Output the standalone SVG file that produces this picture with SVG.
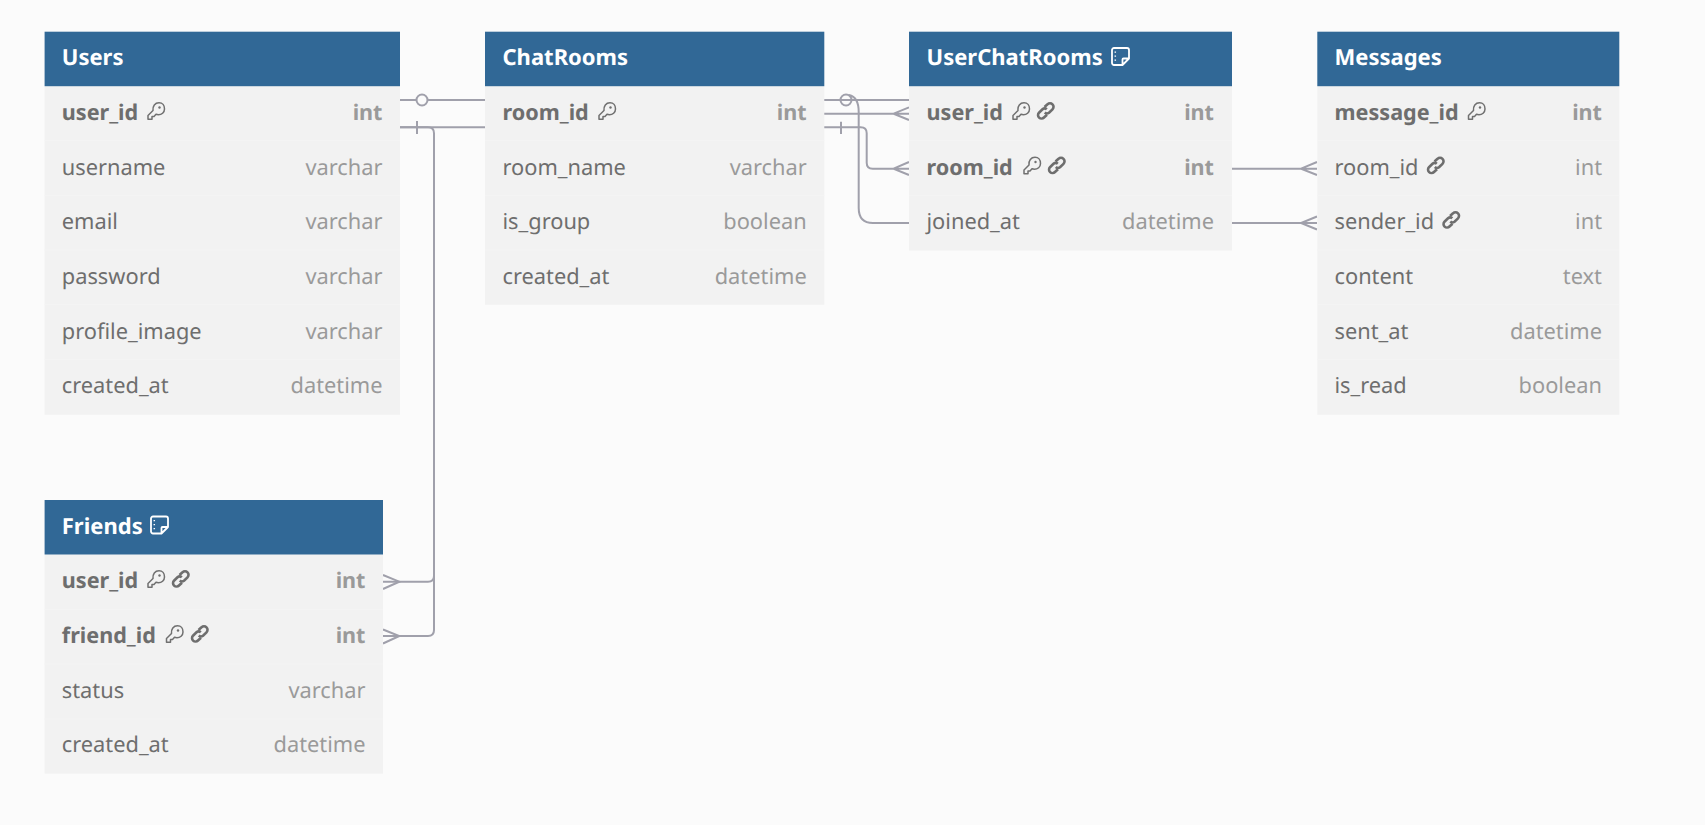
<svg xmlns="http://www.w3.org/2000/svg" width="1705" height="825" viewBox="0 0 1705 825">
<style>
text{font-family:"Noto Sans","Open Sans",sans-serif;text-rendering:geometricPrecision}
.h{fill:#316896}
.b{fill:#f2f2f2}
.sep{stroke:#f4f4f4;stroke-width:1}
.t{font-size:22px;font-weight:700;fill:#fff}
.n{font-size:21.800px;fill:#6e6e6e}
.ty{font-size:21.800px;fill:#9a9a9a;text-anchor:end}
.k{font-weight:700;font-size:21.600px}
.c{fill:none;stroke:#a0a0ab;stroke-width:2}
.ic{fill:none;stroke:#707070;stroke-width:1.500;stroke-linecap:round;stroke-linejoin:round}
.ln{fill:none;stroke:#6e6e6e;stroke-width:2.600}
.nt{fill:none;stroke:#fff;stroke-width:1.800;stroke-linejoin:round}
</style>
<defs>
<g id="key"><path class="ic" d="M1 13.500 L6 8.500 C5.500 4 8 0.800 12 0.800 C15.500 0.800 17.500 3.500 17.500 7 C17.500 10.500 14.500 12.800 11.500 12.800 C10.500 12.800 9.500 12.500 9 12.200 L7 14.500 H5 V17.300 H1 Z"/><circle cx="12.500" cy="5.500" r="1.200" fill="#707070"/></g>
<g id="link"><path class="ln" d="M7.500 4.500 L10.500 1.800 A3.200 3.200 0 0 1 15.500 6.800 L12 10.200 A3.200 3.200 0 0 1 7.800 10"/><path class="ln" d="M9.800 6.800 A3.200 3.200 0 0 0 5.500 6.800 L2 10.200 A3.200 3.200 0 0 0 7 15 L10 12.300"/></g>
<g id="note"><path class="nt" d="M3 1 H16 A2 2 0 0 1 18 3 V11.500 L11.500 18 H3 A2 2 0 0 1 1 16 V3 A2 2 0 0 1 3 1 Z M18 11.500 H12.500 A1 1 0 0 0 11.500 12.500 V18"/><path d="M4.300 4.500 V5.800 M4.300 8.500 V9.800 M4.300 12.500 V13.800" stroke="#fff" stroke-width="1.500"/></g>
</defs>
<rect width="1705" height="825" fill="#fbfbfb"/>

<g id="connectors">
<path class="c" d="M400 100 H485"/>
<circle class="c" cx="422" cy="100" r="5.500" style="fill:#fbfbfb"/>
<path class="c" d="M400 127.300 H485"/>
<path class="c" d="M417 121 V134"/>
<path class="c" d="M400 127.300 H428 Q434 127.300 434 133.300 V576 Q434 581.700 428 581.700 H383"/>
<path class="c" d="M434 570 V630 Q434 636 428 636 H383"/>
<path class="c" d="M383 575 L399.300 581.700 L383 589 M383 629.500 L399.300 636 L383 643.500"/>
<path class="c" d="M824 100 H909"/>
<circle class="c" cx="846" cy="100" r="5.500" style="fill:none"/>
<path class="c" d="M849 95 Q858.700 97 858.700 112 V208 Q858.700 223 873 223 H909"/>
<path class="c" d="M824 113.700 H909 M909 107.300 L893.500 113.700 L909 120"/>
<path class="c" d="M824 127.300 H860.700 Q866.700 127.300 866.700 133.300 V162.700 Q866.700 168.700 872.700 168.700 H909 M909 162 L893.500 168.700 L909 175"/>
<path class="c" d="M841 121.700 V134"/>
<path class="c" d="M1232 168.700 H1317 M1317 162 L1301 168.700 L1317 175"/>
<path class="c" d="M1232 223 H1317 M1317 216.500 L1301 223 L1317 229.500"/>
</g>

<g id="Users">
<rect class="b" x="44.600" y="86" width="355.400" height="328.800"/>
<rect class="h" x="44.600" y="31.700" width="355.400" height="54.500"/>
<path class="sep" d="M44.600 140.700 H400 M44.600 195.400 H400 M44.600 250 H400 M44.600 304.700 H400 M44.600 359.400 H400"/>
<text class="t" x="61.800" y="65">Users</text>
<text class="n k" x="61.800" y="120">user_id</text><use href="#key" x="147" y="102"/><text class="ty k" x="382.500" y="120">int</text>
<text class="n" x="61.800" y="175">username</text><text class="ty" x="382.500" y="175">varchar</text>
<text class="n" x="61.800" y="229">email</text><text class="ty" x="382.500" y="229">varchar</text>
<text class="n" x="61.800" y="284">password</text><text class="ty" x="382.500" y="284">varchar</text>
<text class="n" x="61.800" y="339">profile_image</text><text class="ty" x="382.500" y="339">varchar</text>
<text class="n" x="61.800" y="393">created_at</text><text class="ty" x="382.500" y="393">datetime</text>
</g>

<g id="ChatRooms">
<rect class="b" x="485" y="86" width="339.300" height="218.800"/>
<rect class="h" x="485" y="31.700" width="339.300" height="54.500"/>
<path class="sep" d="M485 140.700 H824.300 M485 195.400 H824.300 M485 250 H824.300"/>
<text class="t" x="502.500" y="65">ChatRooms</text>
<text class="n k" x="502.500" y="120">room_id</text><use href="#key" x="598" y="102"/><text class="ty k" x="806.700" y="120">int</text>
<text class="n" x="502.500" y="175">room_name</text><text class="ty" x="806.700" y="175">varchar</text>
<text class="n" x="502.500" y="229">is_group</text><text class="ty" x="806.700" y="229">boolean</text>
<text class="n" x="502.500" y="284">created_at</text><text class="ty" x="806.700" y="284">datetime</text>
</g>

<g id="UserChatRooms">
<rect class="b" x="909" y="86" width="323" height="164.500"/>
<rect class="h" x="909" y="31.700" width="323" height="54.500"/>
<path class="sep" d="M909 140.700 H1232 M909 195.400 H1232"/>
<text class="t" x="926.500" y="65">UserChatRooms</text><use href="#note" x="1111" y="47"/>
<text class="n k" x="926.500" y="120">user_id</text><use href="#key" x="1012" y="102"/><use href="#link" x="1037" y="102.500"/><text class="ty k" x="1214" y="120">int</text>
<text class="n k" x="926.500" y="175">room_id</text><use href="#key" x="1023" y="156.500"/><use href="#link" x="1048" y="157"/><text class="ty k" x="1214" y="175">int</text>
<text class="n" x="926.500" y="229">joined_at</text><text class="ty" x="1214" y="229">datetime</text>
</g>

<g id="Messages">
<rect class="b" x="1317.300" y="86" width="302" height="328.800"/>
<rect class="h" x="1317.300" y="31.700" width="302" height="54.500"/>
<path class="sep" d="M1317.300 140.700 H1619.300 M1317.300 195.400 H1619.300 M1317.300 250 H1619.300 M1317.300 304.700 H1619.300 M1317.300 359.400 H1619.300"/>
<text class="t" x="1334.500" y="65">Messages</text>
<text class="n k" x="1334.500" y="120">message_id</text><use href="#key" x="1467.500" y="102"/><text class="ty k" x="1602" y="120">int</text>
<text class="n" x="1334.500" y="175">room_id</text><use href="#link" x="1427" y="157"/><text class="ty" x="1602" y="175">int</text>
<text class="n" x="1334.500" y="229">sender_id</text><use href="#link" x="1442.500" y="211.500"/><text class="ty" x="1602" y="229">int</text>
<text class="n" x="1334.500" y="284">content</text><text class="ty" x="1602" y="284">text</text>
<text class="n" x="1334.500" y="339">sent_at</text><text class="ty" x="1602" y="339">datetime</text>
<text class="n" x="1334.500" y="393">is_read</text><text class="ty" x="1602" y="393">boolean</text>
</g>

<g id="Friends">
<rect class="b" x="44.600" y="554.300" width="338.400" height="219.400"/>
<rect class="h" x="44.600" y="500" width="338.400" height="54.500"/>
<path class="sep" d="M44.600 609.500 H383 M44.600 664 H383 M44.600 719 H383"/>
<text class="t" x="61.800" y="534">Friends</text><use href="#note" x="150" y="515.500"/>
<text class="n k" x="61.800" y="588">user_id</text><use href="#key" x="147" y="570"/><use href="#link" x="172" y="570.500"/><text class="ty k" x="365.500" y="588">int</text>
<text class="n k" x="61.800" y="643">friend_id</text><use href="#key" x="165.500" y="625"/><use href="#link" x="191" y="625.500"/><text class="ty k" x="365.500" y="643">int</text>
<text class="n" x="61.800" y="698">status</text><text class="ty" x="365.500" y="698">varchar</text>
<text class="n" x="61.800" y="752">created_at</text><text class="ty" x="365.500" y="752">datetime</text>
</g>
</svg>
